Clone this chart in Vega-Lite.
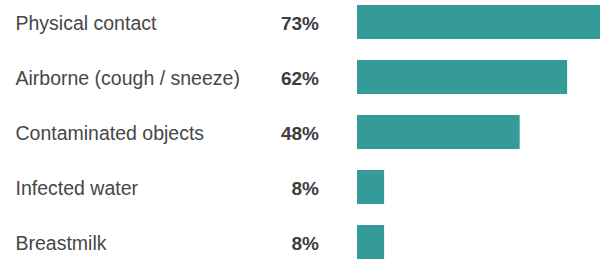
{
  "$schema": "https://vega.github.io/schema/vega-lite/v6.json",
  "width": 243,
  "height": 259,
  "autosize": "none",
  "padding": {"left": 357, "top": 0, "right": 0, "bottom": 0},
  "background": "white",
  "config": {"view": {"stroke": null}},
  "data": {
    "values": [
      {"route": "Physical contact", "pct": 73, "label": "73%"},
      {"route": "Airborne (cough / sneeze)", "pct": 62, "label": "62%"},
      {"route": "Contaminated objects", "pct": 48, "label": "48%"},
      {"route": "Infected water", "pct": 8, "label": "8%"},
      {"route": "Breastmilk", "pct": 8, "label": "8%"}
    ]
  },
  "encoding": {
    "y": {
      "field": "route",
      "type": "nominal",
      "sort": null,
      "scale": {"range": [-5.5, 269.5], "paddingInner": 0.382, "paddingOuter": 0.191},
      "axis": {
        "title": null,
        "domain": false,
        "ticks": false,
        "labelAlign": "left",
        "labelBaseline": "middle",
        "labelPadding": 342,
        "labelOffset": 1.5,
        "labelLimit": 0,
        "labelFont": "Liberation Sans",
        "labelFontSize": 19.5,
        "labelColor": "#474747"
      }
    }
  },
  "layer": [
    {
      "mark": {"type": "bar", "color": "#349b98"},
      "encoding": {
        "x": {
          "field": "pct",
          "type": "quantitative",
          "scale": {"domain": [0, 71.7], "range": [0, 243], "nice": false, "zero": true},
          "axis": null
        }
      }
    },
    {
      "mark": {
        "type": "text",
        "align": "right",
        "baseline": "middle",
        "dx": -38,
        "dy": 1.5,
        "font": "Liberation Sans",
        "fontSize": 19,
        "fontWeight": "bold",
        "color": "#3d3d3d"
      },
      "encoding": {
        "x": {"datum": 0},
        "text": {"field": "label", "type": "nominal"}
      }
    }
  ]
}
